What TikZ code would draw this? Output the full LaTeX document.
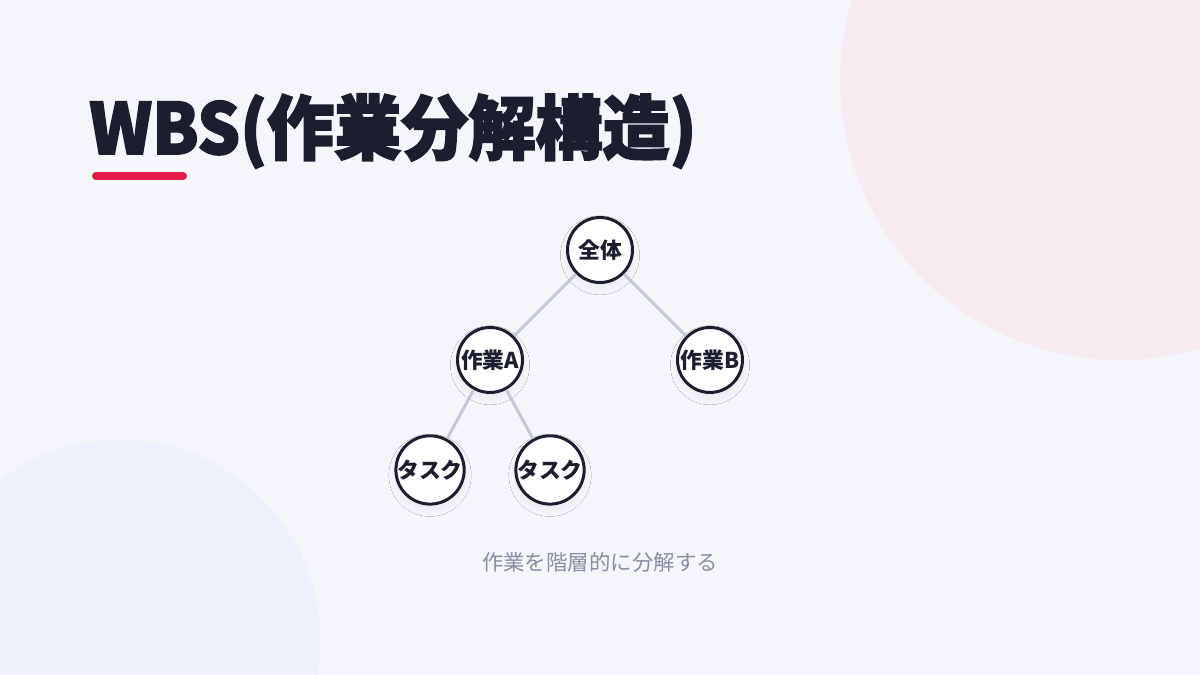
\documentclass[tikz,border=0pt]{standalone}
\usepackage{fontspec}
\newfontfamily\jpfont{Noto Sans CJK JP}
\newfontfamily\heavyfont[BoldFeatures={FakeBold=2.5}]{Noto Sans CJK JP}
\usetikzlibrary{%
  positioning,%
  shadows.blur%
}
\definecolor{bgcol}{HTML}{F5F6FA}
\definecolor{inkcol}{HTML}{1C1D2E}
\definecolor{accentcol}{HTML}{E11D48}
\definecolor{pinkcol}{HTML}{F7EBF0}
\definecolor{bluecol}{HTML}{EEF0FB}
\definecolor{linkcol}{HTML}{C5C7D6}
\definecolor{notecol}{HTML}{8B8DA3}

\begin{document}
\begin{tikzpicture}[
      x=0.02cm, y=-0.02cm,
      every node/.style={font=\jpfont},
      task/.style={
        circle,
        draw=inkcol,
        line width=0.06cm,
        fill=white,
        minimum size=1.3cm,
        inner sep=0pt,
        text=inkcol,
        font=\jpfont\bfseries\fontsize{12.4}{14}\selectfont,
        blur shadow={shadow xshift=0pt, shadow yshift=-3pt,
          shadow blur radius=4pt, shadow blur steps=12,
          shadow opacity=5}
      },
      node distance=2.2cm and 2.2cm,
      on grid,
      link/.style={
        draw=linkcol,
        line width=0.06cm
      }
    ]
    \useasboundingbox (0,0) rectangle (1200,675);
    \fill[bgcol] (0,0) rectangle (1200,675);
    \begin{scope}
      \clip (0,0) rectangle (1200,675);
      \fill[pinkcol] (1120,80) circle[radius=5.6cm];
      \fill[bluecol] (120,640) circle[radius=4cm];
    \end{scope}

    % title
    \node[anchor=base west, inner sep=0pt, text=inkcol,
          xscale=0.955, transform shape,
          font=\heavyfont\bfseries\fontsize{40}{44}\selectfont]
      (Title) at (89,154) {WBS(作業分解構造)};
    \draw[accentcol, line width=0.16cm, line cap=round]
      (96,176) -- (183,176);

    % tree
    \node[task] (Whole) at (600,250) {全体};
    \node[task, below left=of Whole] (WorkA) {作業A};
    \node[task, below right=of Whole] (WorkB) {作業B};
    \node[task, below left=2.2cm and 1.2cm of WorkA] (TaskOne) {タスク};
    \node[task, below right=2.2cm and 1.2cm of WorkA] (TaskTwo) {タスク};

    \draw[link] (Whole) -- (WorkA);
    \draw[link] (Whole) -- (WorkB);
    \draw[link] (WorkA) -- (TaskOne);
    \draw[link] (WorkA) -- (TaskTwo);

    \node[text=notecol, font=\jpfont\fontsize{12.2}{14}\selectfont]
      (Note) at (600,562) {作業を階層的に分解する};
  \end{tikzpicture}
\end{document}
